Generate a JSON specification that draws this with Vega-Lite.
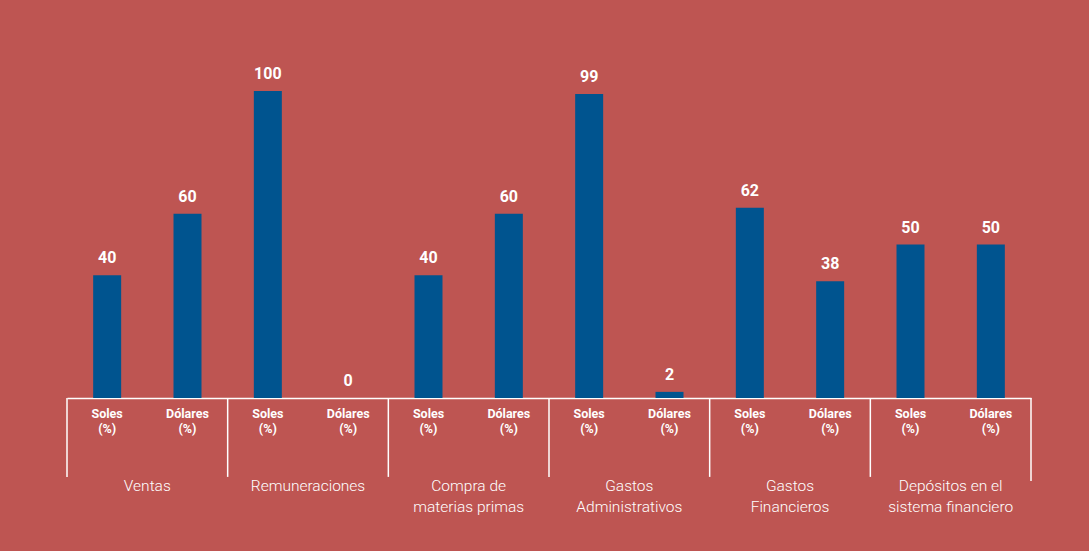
{
  "$schema": "https://vega.github.io/schema/vega-lite/v6.json",
  "autosize": "none",
  "width": 964,
  "height": 307,
  "padding": {"left": 67, "top": 91, "right": 58, "bottom": 153},
  "background": "#BE5552",
  "config": {"view": {"stroke": null}, "text": {"font": "Roboto, sans-serif", "color": "white"}},
  "data": {"values": [
    {"id": "Ventas - Soles", "grupo": "Ventas", "moneda": "Soles (%)", "valor": 40},
    {"id": "Ventas - Dólares", "grupo": "Ventas", "moneda": "Dólares (%)", "valor": 60},
    {"id": "Remuneraciones - Soles", "grupo": "Remuneraciones", "moneda": "Soles (%)", "valor": 100},
    {"id": "Remuneraciones - Dólares", "grupo": "Remuneraciones", "moneda": "Dólares (%)", "valor": 0},
    {"id": "Compra - Soles", "grupo": "Compra de\nmaterias primas", "moneda": "Soles (%)", "valor": 40},
    {"id": "Compra - Dólares", "grupo": "Compra de\nmaterias primas", "moneda": "Dólares (%)", "valor": 60},
    {"id": "Administrativos - Soles", "grupo": "Gastos\nAdministrativos", "moneda": "Soles (%)", "valor": 99},
    {"id": "Administrativos - Dólares", "grupo": "Gastos\nAdministrativos", "moneda": "Dólares (%)", "valor": 2},
    {"id": "Financieros - Soles", "grupo": "Gastos\nFinancieros", "moneda": "Soles (%)", "valor": 62},
    {"id": "Financieros - Dólares", "grupo": "Gastos\nFinancieros", "moneda": "Dólares (%)", "valor": 38},
    {"id": "Depósitos - Soles", "grupo": "Depósitos en el\nsistema financiero", "moneda": "Soles (%)", "valor": 50},
    {"id": "Depósitos - Dólares", "grupo": "Depósitos en el\nsistema financiero", "moneda": "Dólares (%)", "valor": 50}
  ]},
  "encoding": {
    "x": {"field": "id", "type": "nominal", "sort": null,
      "scale": {"paddingInner": 0, "paddingOuter": 0},
      "axis": {"labels": false, "ticks": false, "title": null, "domainColor": "white", "domainWidth": 1.5, "grid": false}}
  },
  "layer": [
    {
      "mark": {"type": "bar", "size": 28, "color": "#00548F"},
      "encoding": {"y": {"field": "valor", "type": "quantitative", "scale": {"domain": [0, 100], "nice": false}, "axis": null}}
    },
    {
      "mark": {"type": "text", "dy": -9, "baseline": "bottom", "fontSize": 16, "fontWeight": "bold"},
      "encoding": {"y": {"field": "valor", "type": "quantitative"}, "text": {"field": "valor", "type": "quantitative"}}
    },
    {
      "mark": {"type": "text", "dy": 10, "baseline": "top", "fontSize": 12.5, "fontWeight": "bold", "lineBreak": " ", "lineHeight": 14.5},
      "encoding": {"y": {"datum": 0}, "text": {"field": "moneda"}}
    },
    {
      "mark": {"type": "text", "dy": 81, "baseline": "top", "fontSize": 15.5, "fontWeight": 300, "lineBreak": "\n", "lineHeight": 21},
      "transform": [{"filter": "indexof(datum.moneda, 'Dólares') == 0"}],
      "encoding": {"x": {"field": "id", "type": "nominal", "sort": null, "bandPosition": 0}, "y": {"datum": 0}, "text": {"field": "grupo"}}
    },
    {
      "transform": [{"filter": "indexof(datum.moneda, 'Soles') == 0"}],
      "mark": {"type": "rule", "color": "white", "strokeWidth": 1.5},
      "encoding": {"x": {"field": "id", "type": "nominal", "sort": null, "bandPosition": 0}, "y": {"datum": 0}, "y2": {"datum": -25.7}}
    },
    {
      "transform": [{"filter": "datum.id == 'Depósitos - Dólares'"}],
      "mark": {"type": "rule", "color": "white", "strokeWidth": 1.5},
      "encoding": {"x": {"field": "id", "type": "nominal", "sort": null, "bandPosition": 1}, "y": {"datum": 0}, "y2": {"datum": -27}}
    }
  ]
}
